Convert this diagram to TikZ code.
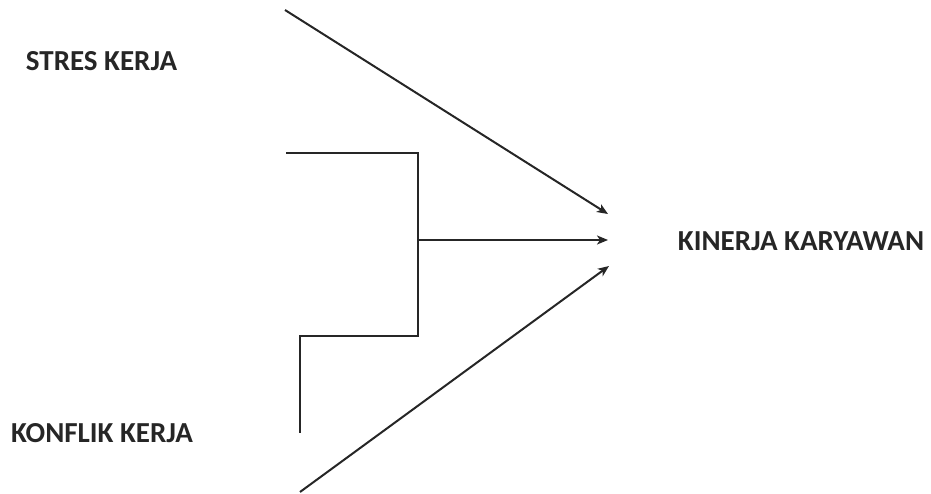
\documentclass[tikz,border=0pt]{standalone}
\usepackage{fontspec}
\setmainfont{Carlito}
\usetikzlibrary{arrows.meta}
\begin{document}
\begin{tikzpicture}[x=1pt,y=-1pt,
  lbl/.style={font=\fontsize{29}{34}\selectfont\bfseries, inner sep=0pt, text=black!85},
  conn/.style={line width=2pt, black!85},
  arr/.style={conn, -{Stealth[length=11pt,width=9pt,inset=3pt]}}]
\useasboundingbox (0,0) rectangle (931,494);
\node[lbl] (stres) at (101.5,61) {STRES KERJA};
\node[lbl] (konflik) at (102,433) {KONFLIK KERJA};
\node[lbl] (kinerja) at (801,241) {KINERJA KARYAWAN};
\coordinate (s0) at (285,10);
\coordinate (t1) at (608,214);
\coordinate (t2) at (608,240);
\coordinate (t3) at (609,266);
\coordinate (b0) at (300,492);
\coordinate (k0) at (286,153);
\coordinate (k1) at (418,153);
\coordinate (k2) at (418,336);
\coordinate (k3) at (300,336);
\coordinate (k4) at (300,433);
\coordinate (m0) at (418,240);
\draw[arr] (s0) -- (t1);
\draw[conn] (k0) -- (k1) -- (k2) -- (k3) -- (k4);
\draw[arr] (m0) -- (t2);
\draw[arr] (b0) -- (t3);
\end{tikzpicture}
\end{document}
